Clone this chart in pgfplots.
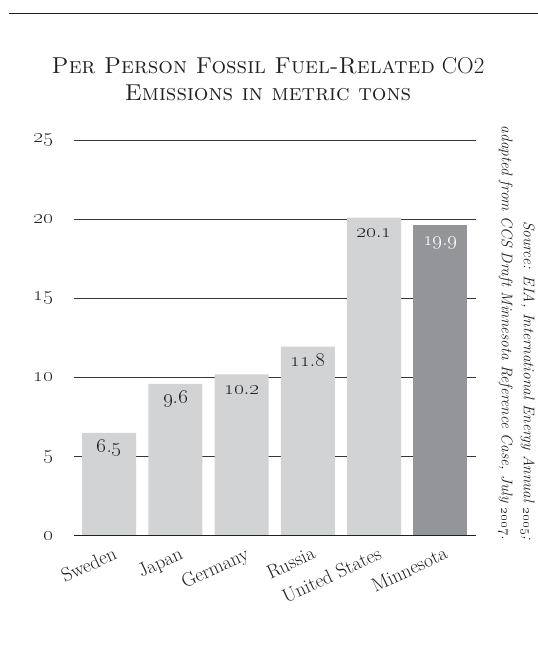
\documentclass[border=0pt]{standalone}
\usepackage{pgfplots}
\pgfplotsset{compat=1.18}
\definecolor{lightbar}{HTML}{D1D3D4}
\definecolor{darkbar}{HTML}{939598}
\definecolor{ink}{HTML}{231F20}
\newcommand\osn[2]{\oldstylenums{#1}.\oldstylenums{#2}}
\begin{document}
\begin{tikzpicture}[x=1pt,y=1pt]
\useasboundingbox (0,0) rectangle (538,646);
\draw[ink, line width=1.3pt] (8.6,632.3) -- (538,632.3);
\node[text=ink, anchor=base, inner sep=0pt, font=\fontsize{23}{24}\selectfont] at (268,572) {\textsc{Per Person Fossil Fuel-Related} CO2};
\node[text=ink, anchor=base, inner sep=0pt, font=\fontsize{23}{24}\selectfont] at (268,545.3) {\textsc{Emissions in metric tons}};
\node[rotate=-90, anchor=north east, inner sep=0pt, align=right,
      font=\fontsize{15.4}{22}\selectfont\itshape, text=ink] at (535,106)
  {Source: EIA, International Energy Annual \oldstylenums{2005};\\adapted from CCS Draft Minnesota Reference Case, July \oldstylenums{2007}.};
\begin{axis}[at={(74pt,110.3pt)}, anchor=south west, scale only axis,
  width=402.3pt, height=395.7pt,
  xmin=-0.532, xmax=5.544, ymin=0, ymax=25,
  ytick={0,5,10,15,20,25},
  yticklabels={\oldstylenums{0},\oldstylenums{5},\oldstylenums{10},\oldstylenums{15},\oldstylenums{20},\oldstylenums{25}},
  xtick={0,1,2,3,4,5},
  xticklabels={Sweden,Japan,Germany,Russia,United States,Minnesota},
  axis line style={draw=none}, major tick length=0pt,
  ymajorgrids, major grid style={ink!90, line width=0.9pt},
  yticklabel style={anchor=east, inner sep=0pt, xshift=-20.7pt, text=ink, font=\fontsize{20.5}{20.5}\selectfont},
  xticklabel style={xshift=3pt, yshift=-10pt, rotate=25, anchor=north east, inner sep=0pt, text=ink, font=\fontsize{19.5}{19.5}\selectfont},
  clip=false]
\addplot[ybar, bar width=54pt, bar shift=0pt, fill=lightbar, draw=none,
  nodes near coords, point meta=explicit symbolic,
  every node near coord/.append style={anchor=base, yshift=-20pt, inner sep=0pt, text=ink, font=\fontsize{21.5}{21.5}\selectfont}]
  coordinates {(0,6.5)[\osn{6}{5}] (1,9.6)[\osn{9}{6}] (2,10.2)[\osn{10}{2}] (3,11.95)[\osn{11}{8}] (4,20.1)[\osn{20}{1}]};
\addplot[ybar, bar width=54pt, bar shift=0pt, fill=darkbar, draw=none,
  nodes near coords, point meta=explicit symbolic,
  every node near coord/.append style={anchor=base, yshift=-20pt, inner sep=0pt, text=white, font=\fontsize{21.5}{21.5}\selectfont}]
  coordinates {(5,19.6)[\osn{19}{9}]};
\draw[ink, line width=1.3pt] (axis cs:-0.532,0) -- (axis cs:5.544,0);
\end{axis}
\end{tikzpicture}
\end{document}
